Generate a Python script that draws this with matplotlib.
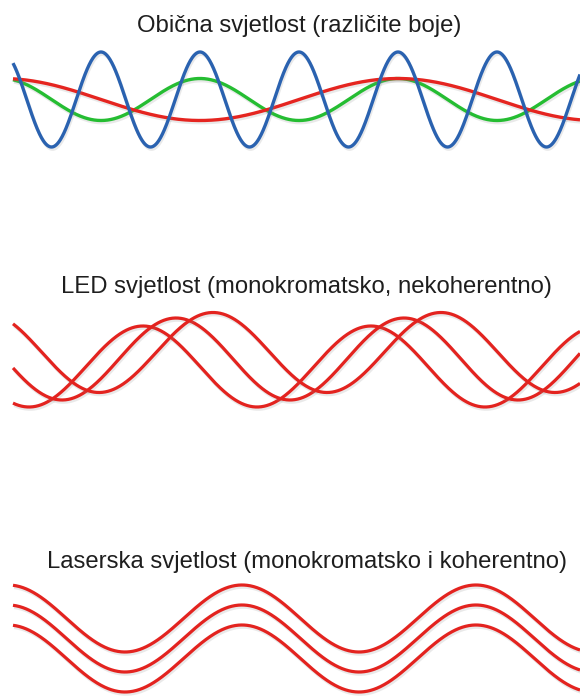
import numpy as np
import matplotlib
matplotlib.use("Agg")
import matplotlib.pyplot as plt
import matplotlib.patheffects as pe

# ---- data (wave parameters, in pixel units of the picture) ----
titles = ["Obična svjetlost (različite boje)",
          "LED svjetlost (monokromatsko, nekoherentno)",
          "Laserska svjetlost (monokromatsko i koherentno)"]

# panel 1: ordinary light, three colours (green, red, blue)
ordinary_wavelength = [198, 396, 99]
ordinary_amplitude = [21, 21, 47.5]
ordinary_first_peak = [2, 2, 2]
ordinary_center = [99.5, 99.5, 99.5]

# panel 2: LED light, same wavelength, random phase
led_wavelength = [228, 228, 228]
led_amplitude = [40.5, 41, 40]
led_first_peak = [143, 176, 213]
led_center = [366.5, 359, 352.5]

# panel 3: laser light, same wavelength, same phase
laser_wavelength = [234, 234, 234]
laser_amplitude = [33.5, 33.5, 33.5]
laser_first_peak = [8, 8, 8]
laser_center = [618.5, 638.5, 658.5]

# ---- styles / layout ----
ordinary_colors = ["#25bd32", "#e52520", "#2a62b0"]
red = "#e3231f"
W, H = 580, 696
x_start, x_end = 13, 580

fig = plt.figure(figsize=(W / 100, H / 100), dpi=100)
ax = fig.add_axes([0, 0, 1, 1])
ax.set_xlim(0, W)
ax.set_ylim(H, 0)
ax.axis("off")

x = np.linspace(x_start, x_end, 1200)


def draw(wl, amp, peak, center, colors, lw=2.3):
    for w, a, p, c, col in zip(wl, amp, peak, center, colors):
        y = c - a * np.cos(2 * np.pi * (x - p) / w)
        ax.plot(x, y, color=col, lw=lw, solid_capstyle="butt",
                path_effects=[pe.SimpleLineShadow(offset=(0.8, -1.6), shadow_color="#8a8a8a",
                                                  alpha=0.18, rho=1.0),
                              pe.Normal()])


draw(ordinary_wavelength, ordinary_amplitude, ordinary_first_peak, ordinary_center,
     ordinary_colors, lw=2.4)
draw(led_wavelength, led_amplitude, led_first_peak, led_center, [red] * 3, lw=2.3)
draw(laser_wavelength, laser_amplitude, laser_first_peak, laser_center, [red] * 3, lw=2.3)

title_x = [299, 306, 307]
title_y = [32, 293, 568]
for t, tx, ty in zip(titles, title_x, title_y):
    ax.text(tx, ty, t, ha="center", va="baseline", fontsize=17.2,
            family="Liberation Sans", color="#1e1e1e")

fig.savefig("out.png", dpi=100, facecolor="white")
